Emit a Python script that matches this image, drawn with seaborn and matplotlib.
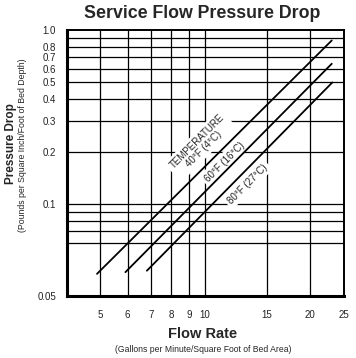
import matplotlib
matplotlib.use("Agg")
import matplotlib.pyplot as plt
import seaborn as sns
import pandas as pd

# end points of each temperature curve (flow rate, pressure drop)
temps = ["40F", "60F", "80F"]
flow_start = [4.90, 5.91, 6.81]
flow_end = [23.06, 23.06, 23.15]
drop_start = [0.0398, 0.0407, 0.0415]
drop_end = [0.871, 0.640, 0.500]

xticks = [5, 6, 7, 8, 9, 10, 15, 20, 25]
xtick_labels = ["5", "6", "7", "8", "9", "10", "15", "20", "25"]
yticks = [0.0297, 0.1, 0.2, 0.3, 0.4, 0.5, 0.6, 0.7, 0.8, 1.0]
ytick_labels = ["0.05", "0.1", "0.2", "0.3", "0.4", "0.5", "0.6", "0.7", "0.8", "1.0"]
xgrid = [5, 6, 7, 8, 9, 10, 15, 20]
ygrid = [0.06, 0.07, 0.08, 0.09, 0.1, 0.2, 0.3, 0.4, 0.5, 0.6, 0.7, 0.8, 0.9]

rows = []
for t, x0, x1, y0, y1 in zip(temps, flow_start, flow_end, drop_start, drop_end):
    rows.append({"temp": t, "flow": x0, "drop": y0})
    rows.append({"temp": t, "flow": x1, "drop": y1})
df = pd.DataFrame(rows)

sns.set_style("white")
plt.rcParams["font.family"] = ["Liberation Sans", "DejaVu Sans"]

fig = plt.figure(figsize=(3.56, 3.58), dpi=100)
ax = fig.add_axes([0.1882, 0.1732, 0.7781, 0.743])

ax.set_xscale("log")
ax.set_yscale("log")
ax.set_xlim(4.02, 25)
ax.set_ylim(0.0297, 1.0)

for gx in xgrid:
    ax.axvline(gx, color="black", lw=0.9, zorder=1)
for gy in ygrid:
    ax.axhline(gy, color="black", lw=0.9, zorder=1)

sns.lineplot(data=df, x="flow", y="drop", hue="temp",
             palette=["black"] * 3, legend=False, lw=1.3, ax=ax, zorder=5)

box = dict(facecolor="white", edgecolor="none", pad=2)
ax.text(9.69, 0.2177, "TEMPERATURE\n40°F (4°C)", rotation=45, fontsize=7,
        ha="center", va="center", rotation_mode="anchor", linespacing=1.0,
        bbox=box, zorder=3)
ax.text(11.35, 0.175, "60°F (16°C)", rotation=45, fontsize=7,
        ha="center", va="center", rotation_mode="anchor", bbox=box, zorder=3)
ax.text(13.21, 0.1308, "80°F (27°C)", rotation=45, fontsize=7,
        ha="center", va="center", rotation_mode="anchor", bbox=box, zorder=3)

ax.minorticks_off()
ax.set_xticks(xticks)
ax.set_xticklabels(xtick_labels)
ax.set_yticks(yticks)
ax.set_yticklabels(ytick_labels)
ax.tick_params(axis="both", length=0, labelsize=7, colors="#222222")
ax.tick_params(axis="x", pad=10)
ax.tick_params(axis="y", pad=8)
ax.set_xlabel("")
ax.set_ylabel("")

for side in ["left", "bottom"]:
    ax.spines[side].set_linewidth(2.2)
for side in ["top", "right"]:
    ax.spines[side].set_linewidth(1.4)
for s in ax.spines.values():
    s.set_color("black")
    s.set_zorder(6)

fig.text(0.569, 0.961, "Service Flow Pressure Drop", fontsize=12.8,
         fontweight="bold", ha="center", va="center")
fig.text(0.568, 0.068, "Flow Rate", fontsize=10.5, fontweight="bold",
         ha="center", va="center")
fig.text(0.572, 0.025, "(Gallons per Minute/Square Foot of Bed Area)",
         fontsize=6.2, ha="center", va="center")
fig.text(0.031, 0.60, "Pressure Drop", fontsize=8.5, fontweight="bold",
         rotation=90, ha="center", va="center")
fig.text(0.064, 0.595, "(Pounds per Square Inch/Foot of Bed Depth)",
         fontsize=6.3, rotation=90, ha="center", va="center")

fig.savefig("out.png", dpi=100)
